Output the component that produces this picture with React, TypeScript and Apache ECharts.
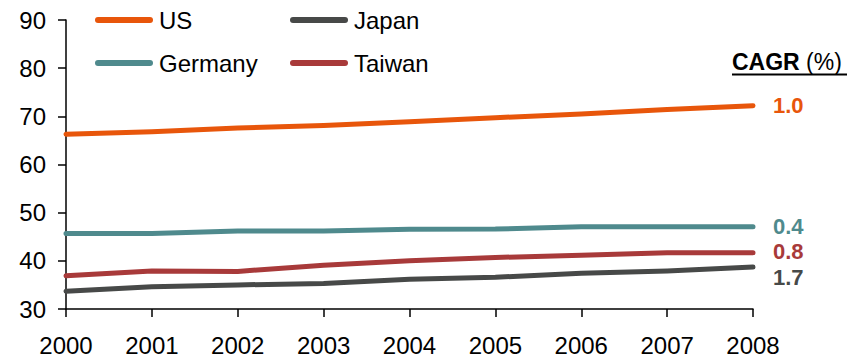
import React, { useEffect, useRef } from "react";
import * as echarts from "echarts";

const years = ["2000", "2001", "2002", "2003", "2004", "2005", "2006", "2007", "2008"];
const usValues = [66.3, 66.8, 67.6, 68.1, 68.9, 69.7, 70.5, 71.4, 72.2];
const japanValues = [33.7, 34.6, 35.0, 35.3, 36.2, 36.6, 37.4, 37.9, 38.7];
const germanyValues = [45.7, 45.7, 46.2, 46.2, 46.55, 46.6, 47.1, 47.1, 47.1];
const taiwanValues = [36.9, 37.9, 37.8, 39.1, 40.0, 40.7, 41.15, 41.7, 41.7];

const seriesNames = ["US", "Japan", "Germany", "Taiwan"];
const seriesValues = [usValues, japanValues, germanyValues, taiwanValues];
const cagrLabels = ["1.0", "1.7", "0.4", "0.8"];
const seriesColors = ["#E8560B", "#474948", "#4F8A8D", "#A83A3A"];

const FONT = "'Liberation Sans', Arial, sans-serif";
const LEGEND_ICON =
  "path://M3,0 L55,0 A3,3 0 0 1 55,6 L3,6 A3,3 0 0 1 3,0 Z";

// vertical nudges for the CAGR end labels so the close ones stay apart
const labelOffsets: Record<string, number[]> = {
  US: [0, 0],
  Japan: [0, 10],
  Germany: [0, 0],
  Taiwan: [0, -1],
};

export default function App() {
  const ref = useRef<HTMLDivElement>(null);

  useEffect(() => {
    if (!ref.current) return;
    const chart = echarts.init(ref.current, undefined, { renderer: "svg" });

    // two rows of two legend entries, columns aligned
    const legendPos = [
      { left: 95, top: 6 },
      { left: 290, top: 6 },
      { left: 95, top: 49 },
      { left: 290, top: 49 },
    ];

    const legends = seriesNames.map((name, i) => ({
      data: [name],
      left: legendPos[i].left,
      top: legendPos[i].top,
      padding: 0,
      icon: LEGEND_ICON,
      itemWidth: 58,
      itemHeight: 6,
      itemGap: 0,
      selectedMode: false,
      textStyle: {
        fontFamily: FONT,
        fontSize: 24,
        color: "#000",
        lineHeight: 28,
        padding: [0, 0, 0, 1],
      },
    }));

    const series = seriesNames.map((name, i) => ({
      name,
      type: "line",
      data: seriesValues[i],
      symbol: "none",
      color: seriesColors[i],
      lineStyle: { width: 5, color: seriesColors[i], cap: "round", join: "round" },
      endLabel: {
        show: true,
        formatter: cagrLabels[i],
        distance: 20,
        offset: labelOffsets[name],
        color: seriesColors[i],
        fontFamily: FONT,
        fontWeight: "bold",
        fontSize: 22,
        lineHeight: 18,
      },
    }));

    chart.setOption({
      animation: false,
      backgroundColor: "#fff",
      textStyle: { fontFamily: FONT },
      legend: legends,
      grid: { left: 66, right: 108, top: 20, bottom: 49, containLabel: false },
      xAxis: {
        type: "category",
        data: years,
        boundaryGap: false,
        axisLine: { lineStyle: { color: "#000", width: 1.5 } },
        axisTick: { show: true, length: 8, interval: 0, lineStyle: { color: "#000", width: 1.5 } },
        axisLabel: { color: "#000", fontSize: 24, fontFamily: FONT, margin: 24, interval: 0 },
        splitLine: { show: false },
      },
      yAxis: {
        type: "value",
        min: 30,
        max: 90,
        interval: 10,
        axisLine: { show: true, lineStyle: { color: "#000", width: 1.5 } },
        axisTick: { show: true, length: 8, lineStyle: { color: "#000", width: 1.5 } },
        axisLabel: { color: "#000", fontSize: 24, fontFamily: FONT, margin: 20 },
        splitLine: { show: false },
      },
      graphic: [
        {
          type: "text",
          left: 732,
          top: 50,
          style: {
            text: "{b|CAGR}{n| (%)}",
            rich: {
              b: { fontFamily: FONT, fontSize: 23, fontWeight: "bold", fill: "#000" },
              n: { fontFamily: FONT, fontSize: 23, fill: "#000" },
            },
          },
        },
        {
          type: "line",
          shape: { x1: 732, y1: 74.5, x2: 847, y2: 74.5 },
          style: { stroke: "#000", lineWidth: 2 },
        },
      ],
      series,
    });

    return () => chart.dispose();
  }, []);

  return (
    <div
      ref={ref}
      style={{ position: "fixed", left: 0, top: 0, width: 861, height: 358, background: "#fff" }}
    />
  );
}
